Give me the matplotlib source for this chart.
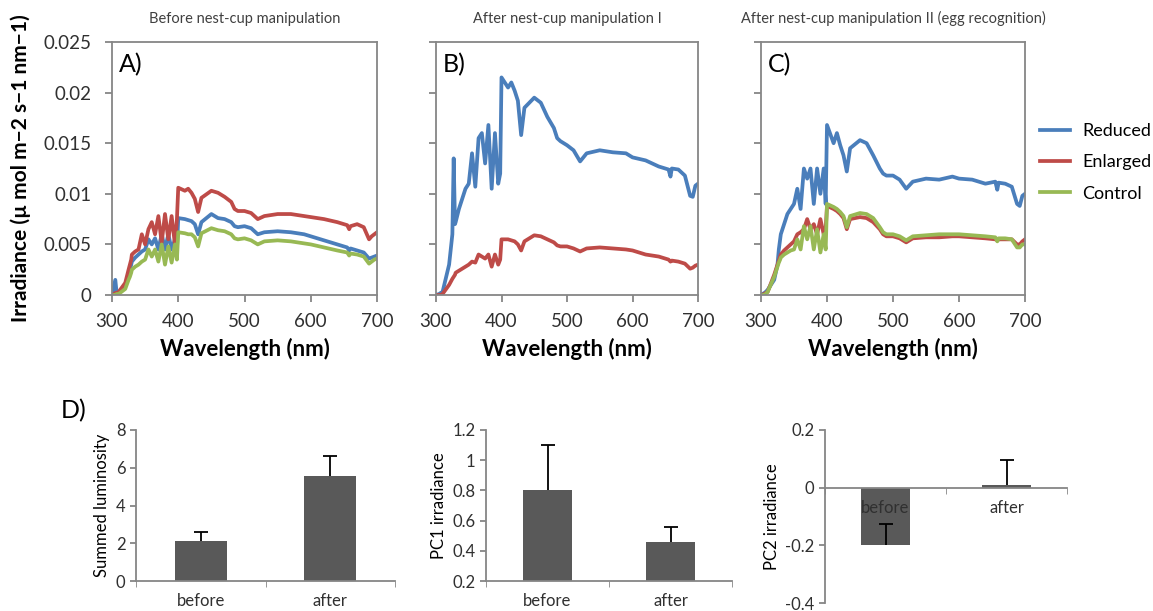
import matplotlib
matplotlib.use('Agg')
import matplotlib.pyplot as plt

plt.rcParams['font.family'] = ['Lato', 'DejaVu Sans']

# wavelength grid (nm) shared by all spectra
wl = [300, 305, 307, 310, 320, 325, 327, 329, 330, 335, 340, 345, 350, 355, 360, 365, 370, 375,
      380, 385, 390, 395, 398, 400, 410, 415, 420, 425, 430, 435, 450, 460, 470, 480, 485, 490,
      500, 510, 520, 530, 550, 570, 590, 600, 620, 640, 655, 658, 660, 670, 680, 688, 692, 696, 700]

# A) before manipulation
a_reduced = [0, 0.0015, 0.0002, 0.0002, 0.001, 0.002, 0.0025, 0.003, 0.0033, 0.0037, 0.004, 0.0043,
             0.0045, 0.0055, 0.005, 0.0056, 0.0045, 0.006, 0.0045, 0.006, 0.0045, 0.0055, 0.0045,
             0.0076, 0.0075, 0.0074, 0.0073, 0.007, 0.006, 0.0072, 0.008, 0.0076, 0.0075, 0.0072,
             0.0068, 0.0067, 0.0068, 0.0066, 0.006, 0.0062, 0.0063, 0.0062, 0.006, 0.0058, 0.0054,
             0.005, 0.0047, 0.0044, 0.0046, 0.0044, 0.0042, 0.0036, 0.0037, 0.0038, 0.0039]
a_enlarged = [0, 0.0002, 0.0002, 0.0003, 0.0012, 0.0025, 0.003, 0.0035, 0.004, 0.0043, 0.0045, 0.006,
              0.005, 0.0065, 0.0072, 0.006, 0.0078, 0.0052, 0.008, 0.0055, 0.0078, 0.005, 0.0075,
              0.0106, 0.0103, 0.0105, 0.0101, 0.0095, 0.0082, 0.0096, 0.0103, 0.0101, 0.0097, 0.0092,
              0.0085, 0.0083, 0.0083, 0.0081, 0.0075, 0.0078, 0.008, 0.008, 0.0078, 0.0077, 0.0075,
              0.0072, 0.0069, 0.0065, 0.0068, 0.007, 0.0067, 0.0055, 0.0058, 0.006, 0.0062]
a_control = [0, 0, 0.0001, 0.0001, 0.0006, 0.0015, 0.0018, 0.0022, 0.0025, 0.0028, 0.003, 0.0033,
             0.0035, 0.0045, 0.0038, 0.0045, 0.0033, 0.005, 0.003, 0.0048, 0.0032, 0.005, 0.0035,
             0.0062, 0.0061, 0.006, 0.006, 0.0057, 0.0048, 0.0061, 0.0066, 0.0064, 0.0063, 0.006,
             0.0056, 0.0055, 0.0056, 0.0054, 0.005, 0.0053, 0.0054, 0.0053, 0.0051, 0.005, 0.0047,
             0.0044, 0.0042, 0.0039, 0.0041, 0.004, 0.0038, 0.0031, 0.0033, 0.0035, 0.0036]

# B) after manipulation I
b_reduced = [0, 0.0001, 0.0002, 0.0003, 0.003, 0.006, 0.0135, 0.007, 0.0072, 0.0085, 0.0095, 0.0105,
             0.011, 0.014, 0.0107, 0.0155, 0.016, 0.013, 0.0168, 0.0105, 0.016, 0.011, 0.012,
             0.0215, 0.0205, 0.021, 0.0202, 0.0192, 0.0158, 0.0185, 0.0195, 0.019, 0.0176, 0.0165,
             0.0155, 0.0152, 0.0148, 0.0143, 0.0132, 0.014, 0.0143, 0.0141, 0.014, 0.0136, 0.0133,
             0.0127, 0.0124, 0.0117, 0.0125, 0.0124, 0.0118, 0.0098, 0.0097, 0.0108, 0.011]
b_enlarged = [0, 0, 0, 0.0001, 0.001, 0.0016, 0.0018, 0.002, 0.0022, 0.0024, 0.0026, 0.0028,
              0.003, 0.0033, 0.0032, 0.004, 0.0038, 0.0036, 0.004, 0.0028, 0.004, 0.003, 0.0035,
              0.0055, 0.0055, 0.0054, 0.0053, 0.005, 0.0044, 0.0053, 0.0059, 0.0058, 0.0055, 0.0052,
              0.0049, 0.0048, 0.0048, 0.0046, 0.0043, 0.0046, 0.0047, 0.0046, 0.0045, 0.0044, 0.004,
              0.0038, 0.0035, 0.0033, 0.0034, 0.0033, 0.0031, 0.0026, 0.0027, 0.0029, 0.003]

# C) after manipulation II
c_reduced = [0, 0.0002, 0.0003, 0.0005, 0.0015, 0.003, 0.0045, 0.0055, 0.006, 0.007, 0.008, 0.0085,
             0.009, 0.0105, 0.0085, 0.0125, 0.0115, 0.0125, 0.009, 0.0125, 0.01, 0.0125, 0.009,
             0.0168, 0.015, 0.016, 0.0148, 0.0138, 0.0122, 0.0145, 0.0153, 0.015, 0.0138, 0.0125,
             0.012, 0.0118, 0.0118, 0.0114, 0.0105, 0.0112, 0.0115, 0.0114, 0.0117, 0.0115, 0.0114,
             0.011, 0.0112, 0.0104, 0.0111, 0.011, 0.0107, 0.009, 0.0088, 0.0098, 0.01]
c_enlarged = [0, 0.0001, 0.0002, 0.0003, 0.002, 0.003, 0.0034, 0.0038, 0.004, 0.0044, 0.0047, 0.005,
              0.0053, 0.006, 0.0062, 0.0065, 0.0075, 0.0065, 0.007, 0.006, 0.0075, 0.006, 0.0065,
              0.0088, 0.0085, 0.0083, 0.008, 0.0076, 0.0065, 0.0075, 0.0077, 0.0076, 0.0072, 0.0065,
              0.006, 0.0058, 0.0058, 0.0056, 0.0052, 0.0056, 0.0057, 0.0057, 0.0058, 0.0058, 0.0057,
              0.0056, 0.0055, 0.0054, 0.0055, 0.0055, 0.0055, 0.005, 0.005, 0.0053, 0.0055]
c_control = [0, 0, 0.0001, 0.0003, 0.0018, 0.0028, 0.0032, 0.0035, 0.0037, 0.004, 0.0042, 0.0044,
             0.0045, 0.0055, 0.0045, 0.0068, 0.0055, 0.0068, 0.0045, 0.0065, 0.0042, 0.006, 0.0045,
             0.009, 0.0087, 0.0085, 0.0082, 0.0078, 0.0067, 0.0078, 0.0081, 0.008, 0.0076, 0.0067,
             0.0062, 0.006, 0.006, 0.0058, 0.0054, 0.0058, 0.0059, 0.006, 0.006, 0.006, 0.0059,
             0.0058, 0.0057, 0.0053, 0.0056, 0.0056, 0.0055, 0.0047, 0.0047, 0.005, 0.005]

titles = ['Before nest-cup manipulation', 'After nest-cup manipulation I',
          'After nest-cup manipulation II (egg recognition)']
letters = ['A)', 'B)', 'C)']

# D) bar panels
bar_cats = ['before', 'after']
lum_mean = [2.1, 5.55]
lum_err = [0.5, 1.05]
pc1_mean = [0.8, 0.455]
pc1_err = [0.3, 0.1]
pc2_mean = [-0.2, 0.008]
pc2_err = [0.075, 0.087]

col = {'Reduced': '#4a7ebb', 'Enlarged': '#be4b48', 'Control': '#98b954'}
axcol = '#868686'
txtcol = '#404040'
W, H = 1153, 611

fig = plt.figure(figsize=(W / 100, H / 100), dpi=100)

def px_axes(left, top, right, bottom):
    return fig.add_axes([left / W, 1 - bottom / H, (right - left) / W, (bottom - top) / H])

def style(ax):
    for s in ax.spines.values():
        s.set_color(axcol)
        s.set_linewidth(1.3)
    ax.tick_params(colors=axcol, labelcolor='#303030', width=1.3)

spectra = [
    {'Reduced': a_reduced, 'Enlarged': a_enlarged, 'Control': a_control},
    {'Reduced': b_reduced, 'Enlarged': b_enlarged},
    {'Reduced': c_reduced, 'Enlarged': c_enlarged, 'Control': c_control},
]
boxes = [(112, 42, 377, 295), (436, 42, 698, 295), (761, 42, 1025, 295)]

for i, (box, data) in enumerate(zip(boxes, spectra)):
    ax = px_axes(*box)
    style(ax)
    for name in ['Reduced', 'Enlarged', 'Control']:
        if name in data:
            ax.plot(wl, data[name], color=col[name], lw=2.7, label=name)
    ax.set_xlim(300, 700)
    ax.set_ylim(0, 0.025)
    ax.set_xticks([300, 400, 500, 600, 700])
    ax.set_yticks([0, 0.005, 0.01, 0.015, 0.02, 0.025])
    ax.tick_params(labelsize=13.5, length=5)
    ax.tick_params(axis='x', pad=8)
    ax.tick_params(axis='y', pad=10)
    if i == 0:
        ax.set_yticklabels(['0', '0.005', '0.01', '0.015', '0.02', '0.025'])
        ax.set_ylabel('Irradiance (µ mol m−2 s−1 nm−1)', fontsize=15, fontweight='bold',
                      color='black', labelpad=9)
    else:
        ax.set_yticklabels([])
    ax.set_xlabel('Wavelength (nm)', fontsize=16, fontweight='bold', color='black', labelpad=6)
    ax.text(0.025, 0.955, letters[i], transform=ax.transAxes, fontsize=18, va='top', ha='left')
    ax.set_title(titles[i], fontsize=10.5, color=txtcol, pad=14)
    if i == 2:
        ax.legend(loc='upper left', bbox_to_anchor=(1.057, 0.68), frameon=False, fontsize=13,
                  borderaxespad=0, borderpad=0, handlelength=1.65, labelspacing=0.85,
                  handletextpad=0.7)

def bar_panel(box, means, errs, ylim, yticks, yticklabels, ylabel, zero_axis=False):
    ax = px_axes(*box)
    style(ax)
    ax.spines['top'].set_visible(False)
    ax.spines['right'].set_visible(False)
    x = list(range(len(bar_cats)))
    tops = [m + e for m, e in zip(means, errs)]
    ax.bar(x, means, width=0.4, color='#595959', zorder=1)
    # plus-only error bars
    ax.vlines(x, means, tops, color='black', lw=1.3, zorder=2)
    ax.plot(x, tops, ls='none', marker='_', ms=10, mew=1.3, color='black', zorder=2)
    ax.set_xlim(-0.5, len(bar_cats) - 0.5)
    ax.set_ylim(*ylim)
    ax.set_yticks(yticks)
    ax.set_yticklabels(yticklabels)
    ax.set_xticks(x)
    ax.set_xticklabels(bar_cats)
    ax.set_xticks([-0.5, 0.5, 1.5], minor=True)
    ax.tick_params(axis='x', which='major', length=0, labelsize=12, pad=9)
    ax.tick_params(axis='x', which='minor', length=4, direction='out', color=axcol)
    ax.tick_params(axis='y', labelsize=12, length=4)
    ax.set_ylabel(ylabel, fontsize=12, color='black')
    if zero_axis:
        ax.spines['bottom'].set_position(('data', 0))
    return ax

ax1 = bar_panel((136, 430, 395, 581), lum_mean, lum_err, (0, 8), [0, 2, 4, 6, 8],
                ['0', '2', '4', '6', '8'], 'Summed luminosity')
ax1.text(-0.29, 1.13, 'D)', transform=ax1.transAxes, fontsize=18, va='center')
bar_panel((486, 430, 732, 581), pc1_mean, pc1_err, (0.2, 1.2), [0.2, 0.4, 0.6, 0.8, 1.0, 1.2],
          ['0.2', '0.4', '0.6', '0.8', '1', '1.2'], 'PC1 irradiance')
bar_panel((825, 430, 1067, 603), pc2_mean, pc2_err, (-0.4, 0.2), [-0.4, -0.2, 0, 0.2],
          ['-0.4', '-0.2', '0', '0.2'], 'PC2 irradiance', zero_axis=True)

fig.savefig('out.png', dpi=100)
